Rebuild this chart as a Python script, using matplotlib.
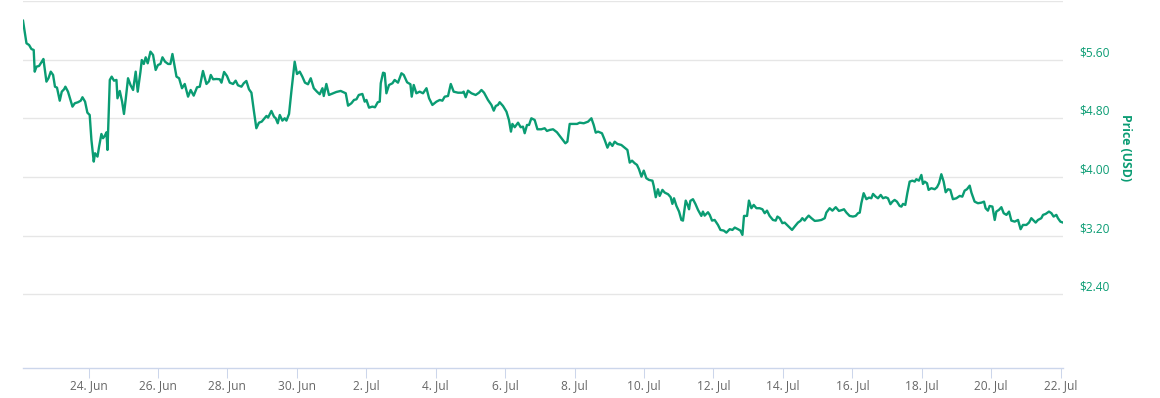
import pandas as pd
import matplotlib
matplotlib.use("Agg")
from matplotlib import pyplot as plt

# price, time in hours after 22 Jun 2018 00:00
hours = [
    2.7, 5.1, 6.9, 8.5, 10.1, 10.8, 12.0, 13.8, 15.7, 16.8,
    18.9, 20.3, 21.9, 23.5, 24.8, 26.2, 28.1, 29.5, 31.1, 32.0,
    33.8, 36.9, 38.5, 40.7, 42.6, 43.8, 45.6, 47.2, 48.8, 50.0,
    51.6, 52.5, 54.2, 55.3, 56.9, 58.0, 59.2, 60.4, 61.1, 62.7,
    64.0, 65.6, 67.3, 68.0, 69.6, 71.2, 72.5, 73.7, 75.3, 77.0,
    78.8, 80.6, 82.0, 83.9, 84.8, 86.2, 87.5, 88.9, 90.8, 92.6,
    94.4, 96.0, 97.7, 99.1, 100.9, 103.0, 104.6, 106.0, 108.8, 110.6,
    112.6, 114.5, 116.8, 118.6, 120.7, 123.0, 124.9, 127.1, 129.5, 131.3,
    132.5, 134.1, 136.4, 138.7, 139.9, 141.7, 143.7, 145.6, 147.9, 149.7,
    151.3,
    # 28 Jun - 4 Jul
    153.7, 155.3, 157.1, 158.9, 160.6, 162.2, 164.0, 165.8, 167.7, 169.3,
    171.0, 172.1, 174.4, 176.2, 177.4, 178.8, 180.2, 182.0, 183.6, 184.8,
    186.6, 188.2, 190.5, 192.1, 194.0, 195.8, 197.6, 199.7, 201.6, 203.7,
    205.9, 207.8, 209.7, 210.6, 212.4, 214.2, 217.0, 219.3, 222.3, 225.8,
    227.4, 229.7, 231.5, 233.2, 234.8, 237.3, 238.9, 240.1, 241.9, 244.2,
    246.0, 247.9, 249.3, 250.0, 251.6, 252.7, 253.9, 255.7, 258.1, 259.6,
    261.9, 264.3, 265.9, 268.2, 270.5, 271.4, 272.8, 274.6, 276.9, 279.2,
    281.6, 283.4, 285.7, 288.5, 290.8,
    # 4 Jul - 10 Jul
    292.6, 294.2, 296.5, 298.4, 300.4, 303.4, 306.4, 307.3, 308.7, 310.3,
    312.7, 315.6, 317.9, 319.6, 321.4, 324.1, 326.5, 328.1, 329.5, 331.0,
    332.2, 334.5, 336.9, 338.6, 340.0, 341.0, 342.6, 344.9, 346.7, 348.3,
    349.5, 351.1, 352.5, 354.1, 356.4, 358.3, 361.0, 363.3, 364.9, 366.8,
    369.1, 371.8, 374.9, 377.6, 379.0, 380.6, 382.9, 385.7, 387.5, 390.3,
    393.3, 395.6, 397.2, 398.6, 400.2, 402.9, 404.8, 406.7, 408.3, 410.1,
    411.7, 413.6, 416.3, 418.6, 420.5, 422.1, 423.7, 425.5, 427.1, 428.5,
    430.2, 431.8, 433.6, 435.4,
    # 10 Jul - 16 Jul
    437.8, 438.7, 440.1, 441.6, 442.8, 444.7, 446.3, 448.6, 450.4, 451.6,
    452.7, 454.4, 456.2, 457.8, 458.9, 460.8, 462.4, 463.1, 464.0, 465.8,
    467.5, 469.3, 471.6, 472.7, 473.9, 476.2, 477.4, 479.0, 480.8, 483.1,
    484.8, 487.1, 488.9, 491.2, 493.1, 494.7, 496.9, 498.6, 500.0, 501.1,
    503.2, 504.5, 506.2, 507.8, 509.7, 511.9, 513.8, 515.4, 517.0, 518.8,
    521.1, 523.0, 524.2, 525.8, 527.6, 529.2, 531.5, 534.3, 536.1, 538.4,
    540.1, 541.4, 543.0, 544.2, 545.8, 547.7, 550.0, 552.2, 554.6, 556.9,
    558.0, 560.3, 562.2, 564.5, 566.7, 569.1, 570.2, 571.9, 574.1,
    # 16 Jul - 22 Jul
    576.4, 578.3, 579.9, 581.1, 582.2, 583.8, 585.7, 587.5, 589.1, 590.3,
    592.1, 593.7, 595.6, 597.2, 599.0, 600.6, 602.3, 603.7, 605.2, 606.8,
    608.7, 609.9, 611.0, 612.6, 614.0, 615.6, 617.5, 619.1, 620.2, 622.0,
    623.7, 624.8, 626.0, 627.6, 628.7, 630.6, 632.9, 634.5, 635.9, 637.5,
    639.1, 640.5, 642.1, 643.7, 645.5, 647.9, 650.2, 652.0, 653.6, 655.2,
    657.1, 658.3, 660.5, 662.8, 665.2, 667.0, 668.1, 669.7, 670.9, 672.8,
    674.4, 675.5, 677.3, 679.0, 680.6, 682.5, 684.3, 685.9, 688.2, 690.5,
    692.3, 693.9, 696.3, 698.1, 699.7, 701.3, 702.7, 704.3, 706.6, 707.8,
    709.6, 711.9, 713.6, 715.1, 717.0, 718.1, 719.8, 721.6,
]

price_usd = [
    6.131, 5.823, 5.800, 5.745, 5.732, 5.436, 5.504, 5.514, 5.572, 5.609,
    5.300, 5.346, 5.436, 5.391, 5.231, 5.218, 5.040, 5.163, 5.196, 5.231,
    5.163, 4.959, 5.005, 5.019, 5.040, 5.087, 5.027, 4.877, 4.845, 4.504,
    4.209, 4.323, 4.277, 4.413, 4.586, 4.528, 4.559, 4.609, 4.368, 5.323,
    5.368, 5.313, 5.323, 5.073, 5.173, 5.027, 4.859, 5.059, 5.346, 5.254,
    5.186, 5.436, 5.163, 5.436, 5.595, 5.541, 5.632, 5.550, 5.709, 5.664,
    5.459, 5.527, 5.541, 5.632, 5.572, 5.541, 5.541, 5.677, 5.368, 5.346,
    5.210, 5.268, 5.095, 5.186, 5.109, 5.223, 5.231, 5.445, 5.268, 5.305,
    5.391, 5.332, 5.336, 5.332, 5.286, 5.432, 5.377, 5.286, 5.268, 5.313,
    5.250,
    # 28 Jun - 4 Jul
    5.231, 5.278, 5.309, 5.196, 5.149, 4.914, 4.664, 4.740, 4.754, 4.791,
    4.832, 4.809, 4.900, 4.822, 4.800, 4.732, 4.845, 4.768, 4.800, 4.768,
    4.859, 5.163, 5.572, 5.404, 5.436, 5.368, 5.286, 5.264, 5.346, 5.210,
    5.163, 5.128, 5.210, 5.104, 5.268, 5.118, 5.141, 5.159, 5.173, 5.141,
    4.972, 5.005, 5.050, 5.059, 5.118, 5.132, 5.027, 5.050, 4.945, 4.959,
    4.950, 5.019, 5.027, 5.278, 5.422, 5.414, 5.141, 5.254, 5.278, 5.323,
    5.286, 5.414, 5.391, 5.291, 5.264, 5.095, 5.254, 5.141, 5.163, 5.141,
    5.210, 5.073, 4.982, 5.027, 5.050,
    # 4 Jul - 10 Jul
    5.040, 5.095, 5.104, 5.268, 5.163, 5.149, 5.149, 5.163, 5.087, 5.177,
    5.141, 5.118, 5.149, 5.186, 5.149, 5.050, 4.982, 4.904, 4.968, 4.982,
    5.019, 4.968, 4.890, 4.777, 4.618, 4.723, 4.678, 4.740, 4.678, 4.686,
    4.596, 4.709, 4.709, 4.800, 4.777, 4.650, 4.650, 4.664, 4.627, 4.641,
    4.650, 4.609, 4.528, 4.459, 4.481, 4.723, 4.723, 4.723, 4.740, 4.732,
    4.754, 4.800, 4.709, 4.604, 4.618, 4.596, 4.504, 4.399, 4.468, 4.423,
    4.481, 4.450, 4.436, 4.399, 4.368, 4.195, 4.222, 4.187, 4.164, 4.105,
    4.004, 4.086, 3.982, 3.959,
    # 10 Jul - 16 Jul
    3.949, 3.877, 3.723, 3.832, 3.741, 3.823, 3.786, 3.764, 3.723, 3.632,
    3.709, 3.604, 3.527, 3.413, 3.404, 3.677, 3.604, 3.559, 3.673, 3.696,
    3.632, 3.550, 3.468, 3.527, 3.472, 3.518, 3.482, 3.404, 3.413, 3.345,
    3.277, 3.268, 3.240, 3.287, 3.277, 3.309, 3.287, 3.268, 3.209, 3.468,
    3.468, 3.677, 3.573, 3.618, 3.573, 3.573, 3.559, 3.505, 3.540, 3.468,
    3.413, 3.404, 3.459, 3.437, 3.369, 3.377, 3.332, 3.277, 3.322, 3.377,
    3.400, 3.437, 3.404, 3.437, 3.472, 3.437, 3.400, 3.404, 3.413, 3.437,
    3.513, 3.573, 3.540, 3.587, 3.536, 3.550, 3.559, 3.513, 3.468,
    # 16 Jul - 22 Jul
    3.459, 3.468, 3.505, 3.513, 3.641, 3.778, 3.696, 3.718, 3.709, 3.768,
    3.731, 3.709, 3.754, 3.709, 3.723, 3.709, 3.628, 3.663, 3.686, 3.663,
    3.604, 3.595, 3.632, 3.618, 3.778, 3.936, 3.949, 3.936, 3.969, 3.949,
    4.027, 3.904, 3.936, 3.914, 3.823, 3.846, 3.832, 3.859, 3.914, 4.037,
    3.936, 3.791, 3.832, 3.823, 3.696, 3.709, 3.741, 3.731, 3.813, 3.832,
    3.881, 3.786, 3.663, 3.641, 3.649, 3.663, 3.573, 3.540, 3.604, 3.595,
    3.413, 3.527, 3.550, 3.587, 3.505, 3.482, 3.527, 3.404, 3.390, 3.413,
    3.287, 3.345, 3.345, 3.377, 3.437, 3.404, 3.377, 3.413, 3.437, 3.482,
    3.495, 3.527, 3.505, 3.459, 3.482, 3.437, 3.390, 3.377,
]

y_ticks = [2.40, 3.20, 4.00, 4.80, 5.60, 6.40]
x_ticks = pd.date_range("2018-06-24", "2018-07-22", freq="2D")

assert len(hours) == len(price_usd)

line_green = "#0a9c73"
plt.rcParams["font.family"] = ["Open Sans", "DejaVu Sans"]

times = pd.Timestamp("2018-06-22") + pd.to_timedelta(hours, unit="h")

fig = plt.figure(figsize=(11.6, 3.98), dpi=100)
ax = fig.add_axes([23 / 1160, 30.5 / 398, 1040 / 1160, 366.5 / 398])

ax.plot(times, price_usd, color=line_green, lw=1.7, solid_joinstyle="round")

ax.set_xlim(times[0], times[-1])
ax.set_ylim(1.40, 6.40)

ax.set_yticks(y_ticks)
ax.yaxis.grid(True, color="#e6e6e6", lw=1.0)
ax.tick_params(axis="y", length=0, labelleft=False, labelright=False)
ax.set_axisbelow(True)

for v in y_ticks:
    if v < 6.40:
        ax.annotate(f"${v:.2f}", xy=(1, v), xycoords=("axes fraction", "data"),
                    xytext=(16, 7), textcoords="offset pixels",
                    ha="left", va="center", fontsize=8.6, color=line_green)

ax.set_xticks(x_ticks)
ax.set_xticklabels([f"{d.day}. {d:%b}" for d in x_ticks])
ax.tick_params(axis="x", direction="out", length=7, width=0.75, color="#ccd6eb",
               labelsize=8.6, labelcolor="#666666", pad=1.5)

for side in ["top", "right", "left"]:
    ax.spines[side].set_visible(False)
ax.spines["bottom"].set_color("#ccd6eb")
ax.spines["bottom"].set_linewidth(1.0)

fig.text(1125 / 1160, 1 - 148 / 398, "Price (USD)", rotation=270,
         ha="center", va="center", fontsize=8.8, fontweight="bold", color=line_green)

fig.savefig("out.png", dpi=100)
